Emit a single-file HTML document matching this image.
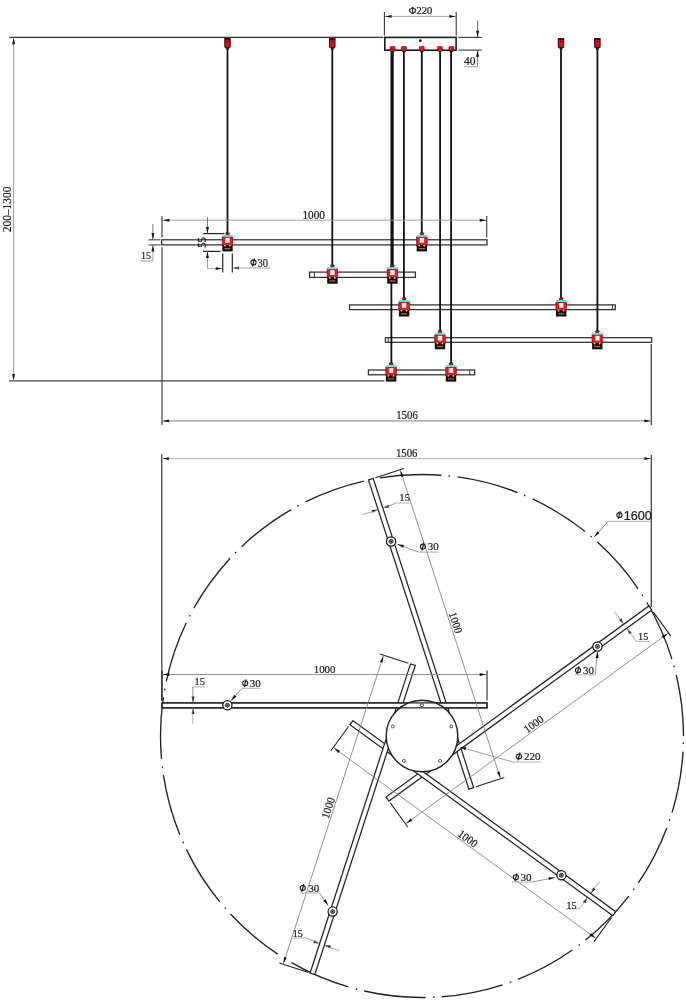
<!DOCTYPE html>
<html><head><meta charset="utf-8"><style>
html,body{margin:0;padding:0;background:#fff;width:686px;height:1000px;overflow:hidden}
svg{display:block;will-change:transform}
</style></head><body>
<svg width="686" height="1000" viewBox="0 0 686 1000">
<rect width="686" height="1000" fill="#fff"/>
<line x1="9.2" y1="37.4" x2="383.3" y2="37.4" stroke="#333" stroke-width="1.3"/>
<rect x="384.8" y="37.4" width="71.3" height="12.8" fill="none" stroke="#1a1a1a" stroke-width="1.6"/>
<circle cx="420.3" cy="40.7" r="1.35" fill="#111"/>
<line x1="384.4" y1="12" x2="384.4" y2="35.6" stroke="#333" stroke-width="1.1"/>
<line x1="456.2" y1="12" x2="456.2" y2="35.6" stroke="#333" stroke-width="1.1"/>
<line x1="385" y1="16.4" x2="456" y2="16.4" stroke="#9a9a9a" stroke-width="0.9"/>
<polygon points="385,16.4 391.5,14.95 391.5,17.85" fill="#111"/>
<polygon points="455.8,16.4 449.3,17.85 449.3,14.95" fill="#111"/>
<text x="420.5" y="14.3" font-family="Liberation Serif" font-size="11.2" text-anchor="middle" fill="#1c1c1c" stroke="#1c1c1c" stroke-width="0.22" textLength="23.5" lengthAdjust="spacingAndGlyphs">&#934;220</text>
<line x1="458.3" y1="37.4" x2="481.7" y2="37.4" stroke="#333" stroke-width="1.1"/>
<line x1="458.3" y1="50.1" x2="481.7" y2="50.1" stroke="#333" stroke-width="1.1"/>
<line x1="477.6" y1="20.8" x2="477.6" y2="37.4" stroke="#555" stroke-width="0.9"/>
<polygon points="477.6,37.2 476.15,30.7 479.05,30.7" fill="#111"/>
<line x1="477.6" y1="50.3" x2="477.6" y2="66.7" stroke="#777" stroke-width="0.9"/>
<polygon points="477.6,50.3 479.05,56.8 476.15,56.8" fill="#111"/>
<line x1="464.4" y1="66.7" x2="477.6" y2="66.7" stroke="#9a9a9a" stroke-width="0.9"/>
<text x="469.8" y="65.3" font-family="Liberation Serif" font-size="12" text-anchor="middle" fill="#1c1c1c" stroke="#1c1c1c" stroke-width="0.22" textLength="11.5" lengthAdjust="spacingAndGlyphs">40</text>
<line x1="13.6" y1="39" x2="13.6" y2="379" stroke="#9a9a9a" stroke-width="1.0"/>
<polygon points="13.6,37.8 15.05,44.3 12.15,44.3" fill="#111"/>
<polygon points="13.6,380.4 12.15,373.9 15.05,373.9" fill="#111"/>
<text x="11.5" y="209.4" font-family="Liberation Serif" font-size="11.8" text-anchor="middle" fill="#1c1c1c" stroke="#1c1c1c" stroke-width="0.22" transform="rotate(-90 11.5 209.4)" textLength="45.5" lengthAdjust="spacingAndGlyphs">200&#8211;1300</text>
<line x1="9.2" y1="380.9" x2="384.5" y2="380.9" stroke="#444" stroke-width="1.3"/>
<rect x="224.8" y="38.6" width="5.4" height="9.2" rx="0.8" fill="#d8121a" stroke="#2a0505" stroke-width="1.0"/>
<rect x="224.3" y="38.1" width="6.4" height="1.7" fill="#3a0808"/>
<rect x="226.5" y="40.5" width="2" height="1.8" fill="#7a1010"/>
<rect x="226.2" y="47.2" width="2.6" height="2.4" fill="#111"/>
<rect x="329.6" y="38.6" width="5.4" height="9.2" rx="0.8" fill="#d8121a" stroke="#2a0505" stroke-width="1.0"/>
<rect x="329.1" y="38.1" width="6.4" height="1.7" fill="#3a0808"/>
<rect x="331.3" y="40.5" width="2" height="1.8" fill="#7a1010"/>
<rect x="331" y="47.2" width="2.6" height="2.4" fill="#111"/>
<rect x="558.3" y="38.6" width="5.4" height="9.2" rx="0.8" fill="#d8121a" stroke="#2a0505" stroke-width="1.0"/>
<rect x="557.8" y="38.1" width="6.4" height="1.7" fill="#3a0808"/>
<rect x="560" y="40.5" width="2" height="1.8" fill="#7a1010"/>
<rect x="559.7" y="47.2" width="2.6" height="2.4" fill="#111"/>
<rect x="594.7" y="38.6" width="5.4" height="9.2" rx="0.8" fill="#d8121a" stroke="#2a0505" stroke-width="1.0"/>
<rect x="594.2" y="38.1" width="6.4" height="1.7" fill="#3a0808"/>
<rect x="596.4" y="40.5" width="2" height="1.8" fill="#7a1010"/>
<rect x="596.1" y="47.2" width="2.6" height="2.4" fill="#111"/>
<line x1="227.5" y1="49" x2="227.5" y2="234.3" stroke="#111" stroke-width="1.8"/>
<line x1="332.3" y1="49" x2="332.3" y2="266.6" stroke="#111" stroke-width="1.8"/>
<line x1="561" y1="49" x2="561" y2="299.4" stroke="#111" stroke-width="1.8"/>
<line x1="597.4" y1="49" x2="597.4" y2="332.2" stroke="#111" stroke-width="1.8"/>
<line x1="391.4" y1="50" x2="391.4" y2="364.5" stroke="#111" stroke-width="1.8"/>
<line x1="392.8" y1="50" x2="392.8" y2="266.6" stroke="#111" stroke-width="1.8"/>
<line x1="403.9" y1="50" x2="403.9" y2="299.4" stroke="#111" stroke-width="1.8"/>
<line x1="421.8" y1="50" x2="421.8" y2="234.3" stroke="#111" stroke-width="1.8"/>
<line x1="440.1" y1="50" x2="440.1" y2="332.2" stroke="#111" stroke-width="1.8"/>
<line x1="451.1" y1="50" x2="451.1" y2="364.5" stroke="#111" stroke-width="1.8"/>
<rect x="161.6" y="239.8" width="325.4" height="5.1" fill="#fff" stroke="#2e2e2e" stroke-width="1.25"/>
<rect x="309.6" y="272.1" width="105.8" height="5.3" fill="#fff" stroke="#2e2e2e" stroke-width="1.25"/>
<line x1="314.3" y1="272.1" x2="314.3" y2="277.4" stroke="#333" stroke-width="1.0"/>
<rect x="349.5" y="304.9" width="265.8" height="4.7" fill="#fff" stroke="#2e2e2e" stroke-width="1.25"/>
<line x1="612.4" y1="304.9" x2="612.4" y2="309.6" stroke="#333" stroke-width="1.0"/>
<rect x="385.4" y="337.7" width="266.2" height="4.6" fill="#fff" stroke="#2e2e2e" stroke-width="1.25"/>
<line x1="388.3" y1="337.7" x2="388.3" y2="342.3" stroke="#333" stroke-width="1.0"/>
<rect x="368.4" y="370" width="106.2" height="4.8" fill="#fff" stroke="#2e2e2e" stroke-width="1.25"/>
<line x1="469.8" y1="370" x2="469.8" y2="374.8" stroke="#333" stroke-width="1.0"/>
<line x1="332.3" y1="238.8" x2="332.3" y2="245.9" stroke="#111" stroke-width="1.8"/>
<line x1="597.4" y1="303.9" x2="597.4" y2="310.6" stroke="#111" stroke-width="1.8"/>
<line x1="391.4" y1="238.8" x2="391.4" y2="245.9" stroke="#111" stroke-width="1.8"/>
<line x1="391.4" y1="271.1" x2="391.4" y2="278.4" stroke="#111" stroke-width="1.8"/>
<line x1="391.4" y1="303.9" x2="391.4" y2="310.6" stroke="#111" stroke-width="1.8"/>
<line x1="391.4" y1="336.7" x2="391.4" y2="343.3" stroke="#111" stroke-width="1.8"/>
<line x1="392.8" y1="238.8" x2="392.8" y2="245.9" stroke="#111" stroke-width="1.8"/>
<line x1="403.9" y1="238.8" x2="403.9" y2="245.9" stroke="#111" stroke-width="1.8"/>
<line x1="403.9" y1="271.1" x2="403.9" y2="278.4" stroke="#111" stroke-width="1.8"/>
<line x1="440.1" y1="238.8" x2="440.1" y2="245.9" stroke="#111" stroke-width="1.8"/>
<line x1="440.1" y1="303.9" x2="440.1" y2="310.6" stroke="#111" stroke-width="1.8"/>
<line x1="451.1" y1="238.8" x2="451.1" y2="245.9" stroke="#111" stroke-width="1.8"/>
<line x1="451.1" y1="303.9" x2="451.1" y2="310.6" stroke="#111" stroke-width="1.8"/>
<line x1="451.1" y1="336.7" x2="451.1" y2="343.3" stroke="#111" stroke-width="1.8"/>
<rect x="225.6" y="232.4" width="3.8" height="2.6" rx="1.2" fill="#b01020" stroke="#400" stroke-width="0.5"/>
<rect x="222.1" y="234.9" width="10.8" height="2.4" fill="#5fe3e6"/>
<rect x="222.2" y="237.2" width="10.6" height="8.1" fill="#e31a1f" stroke="#7a0a0a" stroke-width="0.6"/>
<rect x="225.3" y="237.9" width="4.4" height="4.8" fill="#eef8f8"/>
<rect x="222.3" y="245.2" width="10.4" height="6.2" fill="#0d0d0d"/>
<rect x="224.5" y="248" width="6" height="1.4" fill="#c0504a"/>
<circle cx="224.9" cy="245.6" r="0.9" fill="#e8d070"/>
<circle cx="229.9" cy="245.6" r="0.9" fill="#e8d070"/>
<rect x="420" y="232.4" width="3.8" height="2.6" rx="1.2" fill="#b01020" stroke="#400" stroke-width="0.5"/>
<rect x="416.5" y="234.9" width="10.8" height="2.4" fill="#5fe3e6"/>
<rect x="416.6" y="237.2" width="10.6" height="8.1" fill="#e31a1f" stroke="#7a0a0a" stroke-width="0.6"/>
<rect x="419.7" y="237.9" width="4.4" height="4.8" fill="#eef8f8"/>
<rect x="416.7" y="245.2" width="10.4" height="6.2" fill="#0d0d0d"/>
<rect x="418.9" y="248" width="6" height="1.4" fill="#c0504a"/>
<circle cx="419.3" cy="245.6" r="0.9" fill="#e8d070"/>
<circle cx="424.3" cy="245.6" r="0.9" fill="#e8d070"/>
<rect x="330.5" y="264.7" width="3.8" height="2.6" rx="1.2" fill="#b01020" stroke="#400" stroke-width="0.5"/>
<rect x="327" y="267.2" width="10.8" height="2.4" fill="#5fe3e6"/>
<rect x="327.1" y="269.5" width="10.6" height="8.1" fill="#e31a1f" stroke="#7a0a0a" stroke-width="0.6"/>
<rect x="330.2" y="270.2" width="4.4" height="4.8" fill="#eef8f8"/>
<rect x="327.2" y="277.5" width="10.4" height="6.2" fill="#0d0d0d"/>
<rect x="329.4" y="280.3" width="6" height="1.4" fill="#c0504a"/>
<circle cx="329.8" cy="277.9" r="0.9" fill="#e8d070"/>
<circle cx="334.8" cy="277.9" r="0.9" fill="#e8d070"/>
<rect x="390.5" y="264.7" width="3.8" height="2.6" rx="1.2" fill="#b01020" stroke="#400" stroke-width="0.5"/>
<rect x="387" y="267.2" width="10.8" height="2.4" fill="#5fe3e6"/>
<rect x="387.1" y="269.5" width="10.6" height="8.1" fill="#e31a1f" stroke="#7a0a0a" stroke-width="0.6"/>
<rect x="390.2" y="270.2" width="4.4" height="4.8" fill="#eef8f8"/>
<rect x="387.2" y="277.5" width="10.4" height="6.2" fill="#0d0d0d"/>
<rect x="389.4" y="280.3" width="6" height="1.4" fill="#c0504a"/>
<circle cx="389.8" cy="277.9" r="0.9" fill="#e8d070"/>
<circle cx="394.8" cy="277.9" r="0.9" fill="#e8d070"/>
<rect x="402.2" y="297.5" width="3.8" height="2.6" rx="1.2" fill="#b01020" stroke="#400" stroke-width="0.5"/>
<rect x="398.7" y="300" width="10.8" height="2.4" fill="#5fe3e6"/>
<rect x="398.8" y="302.3" width="10.6" height="8.1" fill="#e31a1f" stroke="#7a0a0a" stroke-width="0.6"/>
<rect x="401.9" y="303" width="4.4" height="4.8" fill="#eef8f8"/>
<rect x="398.9" y="310.3" width="10.4" height="6.2" fill="#0d0d0d"/>
<rect x="401.1" y="313.1" width="6" height="1.4" fill="#c0504a"/>
<circle cx="401.5" cy="310.7" r="0.9" fill="#e8d070"/>
<circle cx="406.5" cy="310.7" r="0.9" fill="#e8d070"/>
<rect x="559.3" y="297.5" width="3.8" height="2.6" rx="1.2" fill="#b01020" stroke="#400" stroke-width="0.5"/>
<rect x="555.8" y="300" width="10.8" height="2.4" fill="#5fe3e6"/>
<rect x="555.9" y="302.3" width="10.6" height="8.1" fill="#e31a1f" stroke="#7a0a0a" stroke-width="0.6"/>
<rect x="559" y="303" width="4.4" height="4.8" fill="#eef8f8"/>
<rect x="556" y="310.3" width="10.4" height="6.2" fill="#0d0d0d"/>
<rect x="558.2" y="313.1" width="6" height="1.4" fill="#c0504a"/>
<circle cx="558.6" cy="310.7" r="0.9" fill="#e8d070"/>
<circle cx="563.6" cy="310.7" r="0.9" fill="#e8d070"/>
<rect x="438.1" y="330.3" width="3.8" height="2.6" rx="1.2" fill="#b01020" stroke="#400" stroke-width="0.5"/>
<rect x="434.6" y="332.8" width="10.8" height="2.4" fill="#5fe3e6"/>
<rect x="434.7" y="335.1" width="10.6" height="8.1" fill="#e31a1f" stroke="#7a0a0a" stroke-width="0.6"/>
<rect x="437.8" y="335.8" width="4.4" height="4.8" fill="#eef8f8"/>
<rect x="434.8" y="343.1" width="10.4" height="6.2" fill="#0d0d0d"/>
<rect x="437" y="345.9" width="6" height="1.4" fill="#c0504a"/>
<circle cx="437.4" cy="343.5" r="0.9" fill="#e8d070"/>
<circle cx="442.4" cy="343.5" r="0.9" fill="#e8d070"/>
<rect x="595.4" y="330.3" width="3.8" height="2.6" rx="1.2" fill="#b01020" stroke="#400" stroke-width="0.5"/>
<rect x="591.9" y="332.8" width="10.8" height="2.4" fill="#5fe3e6"/>
<rect x="592" y="335.1" width="10.6" height="8.1" fill="#e31a1f" stroke="#7a0a0a" stroke-width="0.6"/>
<rect x="595.1" y="335.8" width="4.4" height="4.8" fill="#eef8f8"/>
<rect x="592.1" y="343.1" width="10.4" height="6.2" fill="#0d0d0d"/>
<rect x="594.3" y="345.9" width="6" height="1.4" fill="#c0504a"/>
<circle cx="594.7" cy="343.5" r="0.9" fill="#e8d070"/>
<circle cx="599.7" cy="343.5" r="0.9" fill="#e8d070"/>
<rect x="389.2" y="362.6" width="3.8" height="2.6" rx="1.2" fill="#b01020" stroke="#400" stroke-width="0.5"/>
<rect x="385.7" y="365.1" width="10.8" height="2.4" fill="#5fe3e6"/>
<rect x="385.8" y="367.4" width="10.6" height="8.1" fill="#e31a1f" stroke="#7a0a0a" stroke-width="0.6"/>
<rect x="388.9" y="368.1" width="4.4" height="4.8" fill="#eef8f8"/>
<rect x="385.9" y="375.4" width="10.4" height="6.2" fill="#0d0d0d"/>
<rect x="388.1" y="378.2" width="6" height="1.4" fill="#c0504a"/>
<circle cx="388.5" cy="375.8" r="0.9" fill="#e8d070"/>
<circle cx="393.5" cy="375.8" r="0.9" fill="#e8d070"/>
<rect x="449.1" y="362.6" width="3.8" height="2.6" rx="1.2" fill="#b01020" stroke="#400" stroke-width="0.5"/>
<rect x="445.6" y="365.1" width="10.8" height="2.4" fill="#5fe3e6"/>
<rect x="445.7" y="367.4" width="10.6" height="8.1" fill="#e31a1f" stroke="#7a0a0a" stroke-width="0.6"/>
<rect x="448.8" y="368.1" width="4.4" height="4.8" fill="#eef8f8"/>
<rect x="445.8" y="375.4" width="10.4" height="6.2" fill="#0d0d0d"/>
<rect x="448" y="378.2" width="6" height="1.4" fill="#c0504a"/>
<circle cx="448.4" cy="375.8" r="0.9" fill="#e8d070"/>
<circle cx="453.4" cy="375.8" r="0.9" fill="#e8d070"/>
<rect x="390" y="46.4" width="5" height="4.8" rx="1" fill="#e2141c" stroke="#500" stroke-width="0.6"/>
<polygon points="390.7,51 394.3,51 392.5,53.6" fill="#111"/>
<rect x="401.4" y="46.4" width="5" height="4.8" rx="1" fill="#e2141c" stroke="#500" stroke-width="0.6"/>
<polygon points="402.1,51 405.7,51 403.9,53.6" fill="#111"/>
<rect x="419.3" y="46.4" width="5" height="4.8" rx="1" fill="#e2141c" stroke="#500" stroke-width="0.6"/>
<polygon points="420,51 423.6,51 421.8,53.6" fill="#111"/>
<rect x="437.4" y="46.4" width="5" height="4.8" rx="1" fill="#e2141c" stroke="#500" stroke-width="0.6"/>
<polygon points="438.1,51 441.7,51 439.9,53.6" fill="#111"/>
<rect x="448.9" y="46.4" width="5" height="4.8" rx="1" fill="#e2141c" stroke="#500" stroke-width="0.6"/>
<polygon points="449.6,51 453.2,51 451.4,53.6" fill="#111"/>
<line x1="162" y1="216.3" x2="162" y2="237.6" stroke="#444" stroke-width="1.2"/>
<line x1="162" y1="247.2" x2="162" y2="425" stroke="#444" stroke-width="1.2"/>
<line x1="486.7" y1="216" x2="486.7" y2="237.6" stroke="#444" stroke-width="1.2"/>
<line x1="163" y1="220.2" x2="486" y2="220.2" stroke="#9a9a9a" stroke-width="0.9"/>
<polygon points="163,220.2 169.5,218.75 169.5,221.65" fill="#111"/>
<polygon points="486.2,220.2 479.7,221.65 479.7,218.75" fill="#111"/>
<text x="313.7" y="218.7" font-family="Liberation Serif" font-size="11.6" text-anchor="middle" fill="#1c1c1c" stroke="#1c1c1c" stroke-width="0.22" textLength="22.6" lengthAdjust="spacingAndGlyphs">1000</text>
<line x1="148.5" y1="239.8" x2="160.3" y2="239.8" stroke="#444" stroke-width="1.1"/>
<line x1="148.5" y1="244.9" x2="160.3" y2="244.9" stroke="#444" stroke-width="1.1"/>
<line x1="152.9" y1="224" x2="152.9" y2="239.8" stroke="#666" stroke-width="0.9"/>
<polygon points="152.9,239.6 151.45,233.1 154.35,233.1" fill="#111"/>
<line x1="152.9" y1="245" x2="152.9" y2="261.1" stroke="#9a9a9a" stroke-width="0.9"/>
<polygon points="152.9,245.1 154.35,251.6 151.45,251.6" fill="#111"/>
<line x1="141.2" y1="261.1" x2="152.9" y2="261.1" stroke="#9a9a9a" stroke-width="0.9"/>
<text x="146" y="259.2" font-family="Liberation Serif" font-size="11.4" text-anchor="middle" fill="#1c1c1c" stroke="#1c1c1c" stroke-width="0.22" textLength="10" lengthAdjust="spacingAndGlyphs">15</text>
<line x1="203.1" y1="233.6" x2="224.3" y2="233.6" stroke="#222" stroke-width="1.2"/>
<line x1="203.1" y1="251.4" x2="220.6" y2="251.4" stroke="#222" stroke-width="1.2"/>
<line x1="207.5" y1="217.2" x2="207.5" y2="233.4" stroke="#666" stroke-width="0.9"/>
<polygon points="207.5,233.4 206.05,226.9 208.95,226.9" fill="#111"/>
<line x1="207.5" y1="251.6" x2="207.5" y2="268.6" stroke="#9a9a9a" stroke-width="0.9"/>
<polygon points="207.5,251.6 208.95,258.1 206.05,258.1" fill="#111"/>
<line x1="207.5" y1="268.6" x2="222" y2="268.6" stroke="#9a9a9a" stroke-width="0.9"/>
<polygon points="222.2,268.6 215.7,270.05 215.7,267.15" fill="#111"/>
<text x="205.6" y="242.5" font-family="Liberation Serif" font-size="12" text-anchor="middle" fill="#1c1c1c" stroke="#1c1c1c" stroke-width="0.22" transform="rotate(-90 205.6 242.5)" textLength="10.6" lengthAdjust="spacingAndGlyphs">55</text>
<line x1="222.7" y1="253.6" x2="222.7" y2="272.6" stroke="#222" stroke-width="1.2"/>
<line x1="232.3" y1="253.6" x2="232.3" y2="272.6" stroke="#222" stroke-width="1.2"/>
<polygon points="232.5,268 239,266.55 239,269.45" fill="#111"/>
<line x1="232.5" y1="268" x2="270.2" y2="268" stroke="#9a9a9a" stroke-width="0.9"/>
<ellipse cx="253.5" cy="262.4" rx="2.55" ry="2.45" fill="none" stroke="#1e1e1e" stroke-width="1.15"/>
<line x1="254.5" y1="258.5" x2="252.5" y2="266.3" stroke="#1e1e1e" stroke-width="1.25"/>
<text x="262.8" y="266.6" font-family="Liberation Serif" font-size="11.6" text-anchor="middle" fill="#1c1c1c" stroke="#1c1c1c" stroke-width="0.22" textLength="10.5" lengthAdjust="spacingAndGlyphs">30</text>
<line x1="651.3" y1="344" x2="651.3" y2="425" stroke="#333" stroke-width="1.2"/>
<line x1="163" y1="420.9" x2="651" y2="420.9" stroke="#b4b4b4" stroke-width="1.6"/>
<polygon points="162.6,420.9 169.1,419.45 169.1,422.35" fill="#111"/>
<polygon points="650.8,420.9 644.3,422.35 644.3,419.45" fill="#111"/>
<text x="407" y="418.7" font-family="Liberation Serif" font-size="11.8" text-anchor="middle" fill="#1c1c1c" stroke="#1c1c1c" stroke-width="0.22" textLength="21.6" lengthAdjust="spacingAndGlyphs">1506</text>
<line x1="161.8" y1="454.3" x2="161.8" y2="700.5" stroke="#333" stroke-width="1.2"/>
<line x1="651.3" y1="454.9" x2="651.3" y2="607" stroke="#333" stroke-width="1.2"/>
<line x1="163" y1="458.6" x2="651" y2="458.6" stroke="#aaa" stroke-width="1.0"/>
<polygon points="162.4,458.6 168.9,457.15 168.9,460.05" fill="#111"/>
<polygon points="650.8,458.6 644.3,460.05 644.3,457.15" fill="#111"/>
<text x="406.7" y="457" font-family="Liberation Serif" font-size="11.8" text-anchor="middle" fill="#1c1c1c" stroke="#1c1c1c" stroke-width="0.22" textLength="21.6" lengthAdjust="spacingAndGlyphs">1506</text>
<circle cx="422" cy="736" r="261.5" fill="none" stroke="#222" stroke-width="1.35" stroke-dasharray="62 7 1.6 7.64" stroke-dashoffset="62.5"/>
<polygon points="373.23,478.47 473.66,787.56 468.91,789.1 368.48,480.01" fill="#fff" stroke="#222" stroke-width="1.25"/>
<polygon points="651.86,610.04 388.93,801.07 385.99,797.02 648.92,605.99" fill="#fff" stroke="#222" stroke-width="1.25"/>
<polygon points="612.83,915.68 349.9,724.65 352.84,720.61 615.77,911.64" fill="#fff" stroke="#222" stroke-width="1.25"/>
<polygon points="310.08,973.02 410.51,663.92 415.27,665.47 314.84,974.56" fill="#fff" stroke="#222" stroke-width="1.25"/>
<polygon points="162,702.8 487,702.8 487,707.8 162,707.8" fill="#fff" stroke="#222" stroke-width="1.25"/>
<circle cx="422" cy="736" r="35.8" fill="#fff" stroke="#1e1e1e" stroke-width="1.4"/>
<polygon points="162,702.8 487,702.8 487,707.8 162,707.8" fill="none" stroke="#222" stroke-width="1.25"/>
<circle cx="422" cy="705.2" r="1.5" fill="#fff" stroke="#333" stroke-width="0.8"/>
<circle cx="451.29" cy="726.48" r="1.5" fill="#fff" stroke="#333" stroke-width="0.8"/>
<circle cx="440.1" cy="760.92" r="1.5" fill="#fff" stroke="#333" stroke-width="0.8"/>
<circle cx="403.9" cy="760.92" r="1.5" fill="#fff" stroke="#333" stroke-width="0.8"/>
<circle cx="392.71" cy="726.48" r="1.5" fill="#fff" stroke="#333" stroke-width="0.8"/>
<line x1="162" y1="700.5" x2="162" y2="670.5" stroke="#222" stroke-width="1.1"/>
<line x1="487" y1="700.5" x2="487" y2="670.5" stroke="#222" stroke-width="1.1"/>
<line x1="162.8" y1="674.5" x2="486.2" y2="674.5" stroke="#7c7c7c" stroke-width="0.85"/>
<polygon points="162.8,674.5 169.3,673.05 169.3,675.95" fill="#111"/>
<polygon points="486.2,674.5 479.7,675.95 479.7,673.05" fill="#111"/>
<polygon points="193,702.6 191.55,696.6 194.45,696.6" fill="#111"/>
<polygon points="193,708 194.45,714 191.55,714" fill="#111"/>
<circle cx="227.4" cy="705.3" r="4.6" fill="#fff" stroke="#111" stroke-width="1.25"/>
<circle cx="227.4" cy="705.3" r="2.0" fill="#888" stroke="#222" stroke-width="0.9"/>
<circle cx="227.4" cy="705.3" r="0.8" fill="#111"/>
<text x="324.6" y="672.8" font-family="Liberation Serif" font-size="11.2" text-anchor="middle" fill="#1c1c1c" stroke="#1c1c1c" stroke-width="0.22" transform="rotate(0 324.6 672.8)" textLength="21.5" lengthAdjust="spacingAndGlyphs">1000</text>
<line x1="375.42" y1="477.76" x2="403.95" y2="468.48" stroke="#222" stroke-width="1.1"/>
<line x1="475.85" y1="786.85" x2="504.38" y2="777.58" stroke="#222" stroke-width="1.1"/>
<line x1="400.39" y1="470.48" x2="500.33" y2="778.05" stroke="#7c7c7c" stroke-width="0.85"/>
<polygon points="400.39,470.48 403.78,476.22 401.02,477.11" fill="#111"/>
<polygon points="500.33,778.05 496.94,772.32 499.7,771.42" fill="#111"/>
<polygon points="383,507.89 388.26,504.65 389.15,507.41" fill="#111"/>
<polygon points="377.86,509.56 372.61,512.79 371.71,510.03" fill="#111"/>
<circle cx="391.06" cy="541.44" r="4.6" fill="#fff" stroke="#111" stroke-width="1.25"/>
<circle cx="391.06" cy="541.44" r="2.0" fill="#888" stroke="#222" stroke-width="0.9"/>
<circle cx="391.06" cy="541.44" r="0.8" fill="#111"/>
<text x="452.01" y="623.84" font-family="Liberation Serif" font-size="11.2" text-anchor="middle" fill="#1c1c1c" stroke="#1c1c1c" stroke-width="0.22" transform="rotate(72 452.01 623.84)" textLength="21.5" lengthAdjust="spacingAndGlyphs">1000</text>
<line x1="653.21" y1="611.9" x2="670.84" y2="636.17" stroke="#222" stroke-width="1.1"/>
<line x1="390.28" y1="802.93" x2="407.91" y2="827.2" stroke="#222" stroke-width="1.1"/>
<line x1="667.85" y1="633.4" x2="406.21" y2="823.49" stroke="#7c7c7c" stroke-width="0.85"/>
<polygon points="667.85,633.4 663.44,638.39 661.74,636.05" fill="#111"/>
<polygon points="406.21,823.49 410.62,818.5 412.32,820.84" fill="#111"/>
<polygon points="626.9,628.42 631.6,632.42 629.25,634.12" fill="#111"/>
<polygon points="623.72,624.05 619.02,620.05 621.37,618.34" fill="#111"/>
<circle cx="597.48" cy="646.45" r="4.6" fill="#fff" stroke="#111" stroke-width="1.25"/>
<circle cx="597.48" cy="646.45" r="2.0" fill="#888" stroke="#222" stroke-width="0.9"/>
<circle cx="597.48" cy="646.45" r="0.8" fill="#111"/>
<text x="535.95" y="727.13" font-family="Liberation Serif" font-size="11.2" text-anchor="middle" fill="#1c1c1c" stroke="#1c1c1c" stroke-width="0.22" transform="rotate(-36 535.95 727.13)" textLength="21.5" lengthAdjust="spacingAndGlyphs">1000</text>
<line x1="611.48" y1="917.54" x2="593.84" y2="941.81" stroke="#222" stroke-width="1.1"/>
<line x1="348.55" y1="726.51" x2="330.91" y2="750.78" stroke="#222" stroke-width="1.1"/>
<line x1="595.55" y1="938.11" x2="333.91" y2="748.02" stroke="#7c7c7c" stroke-width="0.85"/>
<polygon points="595.55,938.11 589.44,935.46 591.14,933.11" fill="#111"/>
<polygon points="333.91,748.02 340.02,750.67 338.32,753.01" fill="#111"/>
<polygon points="587.63,897.62 585.28,903.33 582.93,901.63" fill="#111"/>
<polygon points="590.81,893.26 593.16,887.55 595.51,889.25" fill="#111"/>
<circle cx="561.39" cy="875.22" r="4.6" fill="#fff" stroke="#111" stroke-width="1.25"/>
<circle cx="561.39" cy="875.22" r="2.0" fill="#888" stroke="#222" stroke-width="0.9"/>
<circle cx="561.39" cy="875.22" r="0.8" fill="#111"/>
<text x="465.65" y="841.63" font-family="Liberation Serif" font-size="11.2" text-anchor="middle" fill="#1c1c1c" stroke="#1c1c1c" stroke-width="0.22" transform="rotate(36 465.65 841.63)" textLength="21.5" lengthAdjust="spacingAndGlyphs">1000</text>
<line x1="307.89" y1="972.3" x2="279.36" y2="963.03" stroke="#222" stroke-width="1.1"/>
<line x1="408.32" y1="663.21" x2="379.79" y2="653.94" stroke="#222" stroke-width="1.1"/>
<line x1="283.41" y1="963.51" x2="383.35" y2="655.94" stroke="#7c7c7c" stroke-width="0.85"/>
<polygon points="283.41,963.51 284.04,956.88 286.8,957.78" fill="#111"/>
<polygon points="383.35,655.94 382.72,662.57 379.96,661.67" fill="#111"/>
<polygon points="319.47,943.47 313.32,943 314.21,940.24" fill="#111"/>
<polygon points="324.61,945.14 330.76,945.61 329.86,948.37" fill="#111"/>
<circle cx="332.67" cy="911.59" r="4.6" fill="#fff" stroke="#111" stroke-width="1.25"/>
<circle cx="332.67" cy="911.59" r="2.0" fill="#888" stroke="#222" stroke-width="0.9"/>
<circle cx="332.67" cy="911.59" r="0.8" fill="#111"/>
<text x="331.79" y="809.1" font-family="Liberation Serif" font-size="11.2" text-anchor="middle" fill="#1c1c1c" stroke="#1c1c1c" stroke-width="0.22" transform="rotate(288 331.79 809.1)" textLength="21.5" lengthAdjust="spacingAndGlyphs">1000</text>
<line x1="192.8" y1="686.9" x2="192.8" y2="702" stroke="#777" stroke-width="0.8"/>
<line x1="192.8" y1="686.9" x2="204.5" y2="686.9" stroke="#999" stroke-width="0.8"/>
<line x1="192.8" y1="708.5" x2="192.8" y2="724" stroke="#999" stroke-width="0.8"/>
<text x="199.7" y="684.8" font-family="Liberation Serif" font-size="10.8" text-anchor="middle" fill="#1c1c1c" stroke="#1c1c1c" stroke-width="0.22" textLength="10.2" lengthAdjust="spacingAndGlyphs">15</text>
<line x1="231" y1="700.7" x2="242" y2="688.3" stroke="#777" stroke-width="0.8"/>
<polygon points="231,700.7 234.2,694.86 236.38,696.77" fill="#111"/>
<line x1="242" y1="688.3" x2="260.9" y2="688.3" stroke="#999" stroke-width="0.8"/>
<ellipse cx="245.2" cy="683.2" rx="2.55" ry="2.45" fill="none" stroke="#1e1e1e" stroke-width="1.15"/>
<line x1="246.2" y1="679.3" x2="244.2" y2="687.1" stroke="#1e1e1e" stroke-width="1.25"/>
<text x="255.2" y="686.9" font-family="Liberation Serif" font-size="10.8" text-anchor="middle" fill="#1c1c1c" stroke="#1c1c1c" stroke-width="0.22" textLength="11" lengthAdjust="spacingAndGlyphs">30</text>
<line x1="362.4" y1="514.7" x2="377" y2="510.3" stroke="#888" stroke-width="0.8"/>
<line x1="383.5" y1="507.8" x2="396.6" y2="503" stroke="#888" stroke-width="0.8"/>
<line x1="396.6" y1="503" x2="409.8" y2="503" stroke="#999" stroke-width="0.8"/>
<text x="404.7" y="500.9" font-family="Liberation Serif" font-size="10.8" text-anchor="middle" fill="#1c1c1c" stroke="#1c1c1c" stroke-width="0.22" textLength="10.2" lengthAdjust="spacingAndGlyphs">15</text>
<line x1="397.4" y1="544.3" x2="418.5" y2="552.1" stroke="#777" stroke-width="0.8"/>
<polygon points="397.4,544.3 404.01,545.11 403.04,547.84" fill="#111"/>
<line x1="418.5" y1="552.1" x2="438.9" y2="552.1" stroke="#999" stroke-width="0.8"/>
<ellipse cx="422.9" cy="546.6" rx="2.55" ry="2.45" fill="none" stroke="#1e1e1e" stroke-width="1.15"/>
<line x1="423.9" y1="542.7" x2="421.9" y2="550.5" stroke="#1e1e1e" stroke-width="1.25"/>
<text x="433.2" y="550.2" font-family="Liberation Serif" font-size="10.8" text-anchor="middle" fill="#1c1c1c" stroke="#1c1c1c" stroke-width="0.22" textLength="11" lengthAdjust="spacingAndGlyphs">30</text>
<line x1="614.4" y1="611.3" x2="623.2" y2="623.2" stroke="#888" stroke-width="0.8"/>
<line x1="628.2" y1="630.1" x2="636.3" y2="641.4" stroke="#888" stroke-width="0.8"/>
<line x1="636.3" y1="641.4" x2="648.8" y2="641.4" stroke="#999" stroke-width="0.8"/>
<text x="643.2" y="639.6" font-family="Liberation Serif" font-size="10.8" text-anchor="middle" fill="#1c1c1c" stroke="#1c1c1c" stroke-width="0.22" textLength="10.2" lengthAdjust="spacingAndGlyphs">15</text>
<line x1="597.5" y1="651.5" x2="595.2" y2="674.8" stroke="#777" stroke-width="0.8"/>
<polygon points="597.5,651.5 598.51,658.08 595.62,657.89" fill="#111"/>
<line x1="574.8" y1="674.8" x2="595.2" y2="674.8" stroke="#999" stroke-width="0.8"/>
<ellipse cx="578" cy="670.2" rx="2.55" ry="2.45" fill="none" stroke="#1e1e1e" stroke-width="1.15"/>
<line x1="579" y1="666.3" x2="577" y2="674.1" stroke="#1e1e1e" stroke-width="1.25"/>
<text x="588.5" y="674" font-family="Liberation Serif" font-size="10.8" text-anchor="middle" fill="#1c1c1c" stroke="#1c1c1c" stroke-width="0.22" textLength="11" lengthAdjust="spacingAndGlyphs">30</text>
<line x1="599.9" y1="881.3" x2="592.3" y2="890.8" stroke="#888" stroke-width="0.8"/>
<line x1="586.6" y1="899.5" x2="579" y2="909" stroke="#888" stroke-width="0.8"/>
<line x1="566" y1="909" x2="579" y2="909" stroke="#999" stroke-width="0.8"/>
<text x="571.5" y="908.6" font-family="Liberation Serif" font-size="10.8" text-anchor="middle" fill="#1c1c1c" stroke="#1c1c1c" stroke-width="0.22" textLength="10.2" lengthAdjust="spacingAndGlyphs">15</text>
<line x1="555.1" y1="877.5" x2="532" y2="882" stroke="#777" stroke-width="0.8"/>
<polygon points="555.1,877.5 548.97,880.11 548.44,877.26" fill="#111"/>
<line x1="512" y1="882" x2="532" y2="882" stroke="#999" stroke-width="0.8"/>
<ellipse cx="515.9" cy="877.2" rx="2.55" ry="2.45" fill="none" stroke="#1e1e1e" stroke-width="1.15"/>
<line x1="516.9" y1="873.3" x2="514.9" y2="881.1" stroke="#1e1e1e" stroke-width="1.25"/>
<text x="526" y="881.3" font-family="Liberation Serif" font-size="10.8" text-anchor="middle" fill="#1c1c1c" stroke="#1c1c1c" stroke-width="0.22" textLength="11" lengthAdjust="spacingAndGlyphs">30</text>
<line x1="339.2" y1="950.6" x2="325.6" y2="946.2" stroke="#888" stroke-width="0.8"/>
<line x1="306.2" y1="938" x2="317.7" y2="942.9" stroke="#888" stroke-width="0.8"/>
<line x1="292.6" y1="938" x2="306.2" y2="938" stroke="#999" stroke-width="0.8"/>
<text x="297.8" y="936.8" font-family="Liberation Serif" font-size="10.8" text-anchor="middle" fill="#1c1c1c" stroke="#1c1c1c" stroke-width="0.22" textLength="10.2" lengthAdjust="spacingAndGlyphs">15</text>
<line x1="328.2" y1="905.5" x2="319.4" y2="892.9" stroke="#777" stroke-width="0.8"/>
<polygon points="328.2,905.5 323.28,901.01 325.66,899.34" fill="#111"/>
<line x1="300.7" y1="892.9" x2="319.4" y2="892.9" stroke="#999" stroke-width="0.8"/>
<ellipse cx="302.8" cy="887.9" rx="2.55" ry="2.45" fill="none" stroke="#1e1e1e" stroke-width="1.15"/>
<line x1="303.8" y1="884" x2="301.8" y2="891.8" stroke="#1e1e1e" stroke-width="1.25"/>
<text x="313.8" y="891.5" font-family="Liberation Serif" font-size="10.8" text-anchor="middle" fill="#1c1c1c" stroke="#1c1c1c" stroke-width="0.22" textLength="11" lengthAdjust="spacingAndGlyphs">30</text>
<line x1="461.1" y1="747.4" x2="512.9" y2="762" stroke="#888" stroke-width="0.8"/>
<polygon points="459.5,747 466.15,747.37 465.36,750.16" fill="#111"/>
<line x1="512.9" y1="762" x2="541.2" y2="762" stroke="#999" stroke-width="0.8"/>
<ellipse cx="519" cy="756.4" rx="2.55" ry="2.45" fill="none" stroke="#1e1e1e" stroke-width="1.15"/>
<line x1="520" y1="752.5" x2="518" y2="760.3" stroke="#1e1e1e" stroke-width="1.25"/>
<text x="532.3" y="760.2" font-family="Liberation Serif" font-size="10.8" text-anchor="middle" fill="#1c1c1c" stroke="#1c1c1c" stroke-width="0.22" textLength="16.6" lengthAdjust="spacingAndGlyphs">220</text>
<line x1="608.1" y1="521.3" x2="651.3" y2="521.3" stroke="#999" stroke-width="0.8"/>
<line x1="608.1" y1="521.3" x2="594.1" y2="537.1" stroke="#666" stroke-width="0.8"/>
<polygon points="594.1,537.1 597.35,531.29 599.51,533.22" fill="#111"/>
<ellipse cx="619.4" cy="515" rx="2.55" ry="2.45" fill="none" stroke="#1e1e1e" stroke-width="1.15"/>
<line x1="620.4" y1="511.1" x2="618.4" y2="518.9" stroke="#1e1e1e" stroke-width="1.25"/>
<text x="637.85" y="519.6" font-family="Liberation Sans" font-size="12.3" text-anchor="middle" fill="#1a1a1a" stroke="#1a1a1a" stroke-width="0.22" textLength="28.1" lengthAdjust="spacingAndGlyphs">1600</text>
</svg>
</body></html>
